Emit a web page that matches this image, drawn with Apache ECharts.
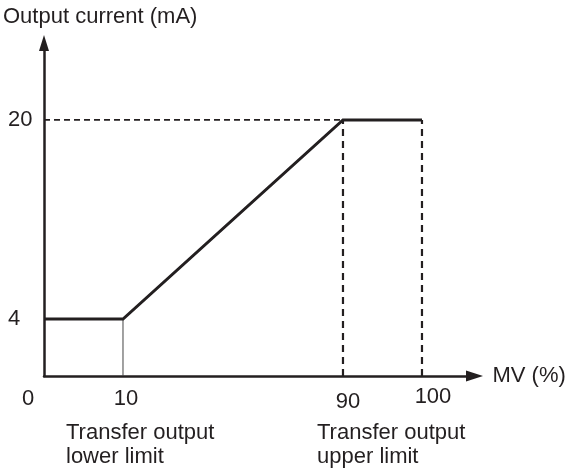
<!DOCTYPE html>
<html>
<head>
<meta charset="utf-8">
<script src="https://cdn.jsdelivr.net/npm/echarts@6/dist/echarts.min.js"></script>
<style>
html,body{margin:0;padding:0;background:#fff;}
#main{width:570px;height:473px;}
</style>
</head>
<body>
<div id="main"></div>
<script>
// ---- data ----
const mvValues = [0, 10, 90, 100];          // MV (%)
const currentValues = [4, 4, 20, 20];       // Output current (mA)
const xTickLabels = [0, 10, 90, 100];
const yTickLabels = [4, 20];
const lowerLimitMV = 10;
const upperLimitMV = 90;
const maxMV = 100;
const annotations = ['Transfer output\nlower limit', 'Transfer output\nupper limit'];
const yAxisTitle = 'Output current (mA)';
const xAxisTitle = 'MV (%)';

// ---- schematic (non-uniform) axis layout ----
const xBreakVals = [0, 10, 90, 100];
const xBreakFrac = [0, 0.1835, 0.6945, 0.878];
const yBreakVals = [0, 4, 20];
const yBreakFrac = [0, 0.171, 0.769];

function interp(v, vals, fracs) {
  for (let i = 0; i < vals.length - 1; i++) {
    if (v <= vals[i + 1] || i === vals.length - 2) {
      const t = (v - vals[i]) / (vals[i + 1] - vals[i]);
      return fracs[i] + t * (fracs[i + 1] - fracs[i]);
    }
  }
  return fracs[0];
}
const toX = v => interp(v, xBreakVals, xBreakFrac);
const toY = v => interp(v, yBreakVals, yBreakFrac);
function nearestLabel(val, ticks, map) {
  let best = ticks[0], d = Infinity;
  ticks.forEach(t => { const dd = Math.abs(map(t) - val); if (dd < d) { d = dd; best = t; } });
  return best;
}

const FONT = '"Liberation Sans", Arial, Helvetica, sans-serif';
const INK = '#231f20';
const FS = 22;

const mainData = mvValues.map((m, i) => [toX(m), toY(currentValues[i])]);
const topCurrent = currentValues[currentValues.length - 1];
const lowCurrent = currentValues[0];

const chart = echarts.init(document.getElementById('main'));
const xLabelStyle = {0: 'a', 10: 'b', 90: 'c', 100: 'd'};
chart.setOption({
  animation: false,
  backgroundColor: '#fff',
  title: {
    text: yAxisTitle, left: 3, top: 6, padding: 0,
    textStyle: {fontFamily: FONT, fontSize: FS, fontWeight: 'normal', color: INK}
  },
  grid: {left: 44, right: 95.5, top: 43, bottom: 97, containLabel: false, outerBoundsMode: 'none'},
  xAxis: {
    type: 'value', min: 0, max: 1,
    name: xAxisTitle, nameLocation: 'end', nameGap: 18,
    nameTextStyle: {fontFamily: FONT, fontSize: FS, color: INK, verticalAlign: 'middle', align: 'left'},
    axisLine: {show: true, lineStyle: {color: INK, width: 2.5}, symbol: ['none', 'triangle'], symbolSize: [11, 17]},
    axisTick: {show: false},
    splitLine: {show: false},
    axisLabel: {
      customValues: xTickLabels.map(toX),
      margin: 10,
      fontFamily: FONT, fontSize: FS, color: INK,
      formatter: function (val) {
        const t = nearestLabel(val, xTickLabels, toX);
        return '{' + xLabelStyle[t] + '|' + t + '}';
      },
      rich: {
        a: {fontFamily: FONT, fontSize: FS, color: INK, padding: [2, 32, 0, 0]},
        b: {fontFamily: FONT, fontSize: FS, color: INK, padding: [2, 0, 0, 6]},
        c: {fontFamily: FONT, fontSize: FS, color: INK, padding: [5, 0, 0, 10]},
        d: {fontFamily: FONT, fontSize: FS, color: INK, padding: [0, 0, 0, 22]}
      }
    }
  },
  yAxis: {
    type: 'value', min: 0, max: 1,
    axisLine: {show: true, lineStyle: {color: INK, width: 2.5}, symbol: ['none', 'triangle'], symbolSize: [10, 16]},
    axisTick: {show: false},
    splitLine: {show: false},
    axisLabel: {
      customValues: yTickLabels.map(toY),
      margin: 36, align: 'left',
      fontFamily: FONT, fontSize: FS, color: INK,
      formatter: function (val) { return String(nearestLabel(val, yTickLabels, toY)); }
    }
  },
  series: [
    {
      name: 'guide20', type: 'line', symbol: 'none', silent: true, z: 1,
      data: [[toX(0), toY(topCurrent)], [toX(upperLimitMV), toY(topCurrent)]],
      lineStyle: {color: INK, width: 1.8, type: [6, 4]}
    },
    {
      name: 'guide90', type: 'line', symbol: 'none', silent: true, z: 1,
      data: [[toX(upperLimitMV), 0], [toX(upperLimitMV), toY(topCurrent)]],
      lineStyle: {color: INK, width: 2.2, type: [7, 5]}
    },
    {
      name: 'guide100', type: 'line', symbol: 'none', silent: true, z: 1,
      data: [[toX(maxMV), 0], [toX(maxMV), toY(topCurrent)]],
      lineStyle: {color: INK, width: 2.2, type: [7, 5]}
    },
    {
      name: 'guide10', type: 'line', symbol: 'none', silent: true, z: 1,
      data: [[toX(lowerLimitMV), 0], [toX(lowerLimitMV), toY(lowCurrent)]],
      lineStyle: {color: '#444', width: 1}
    },
    {
      name: 'output', type: 'line', symbol: 'none', z: 3,
      data: mainData,
      lineStyle: {color: INK, width: 3, cap: 'butt', join: 'miter'}
    }
  ],
  graphic: [
    {type: 'text', left: 66, top: 421, style: {text: annotations[0], font: FS + 'px ' + FONT, fill: INK, lineHeight: 24}},
    {type: 'text', left: 317, top: 421, style: {text: annotations[1], font: FS + 'px ' + FONT, fill: INK, lineHeight: 24}}
  ]
});
</script>
</body>
</html>
